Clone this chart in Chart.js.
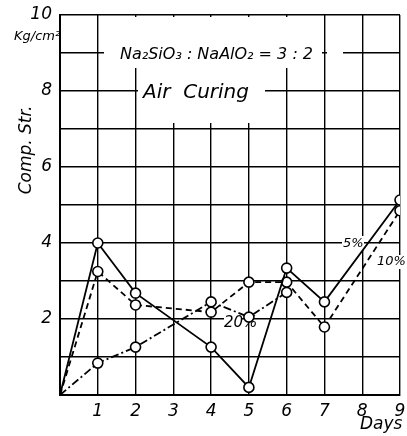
<!DOCTYPE html>
<html>
<head>
<meta charset="utf-8">
<script src="https://cdn.jsdelivr.net/npm/chart.js@4"></script>
<style>
  html, body { margin: 0; padding: 0; background: #fff; }
</style>
</head>
<body>
<canvas id="canvas" width="407" height="436"></canvas>
<script>
// compressive strength (kg/cm2) vs curing days, Na2SiO3 : NaAlO2 = 3 : 2, air curing
const days = [0, 1, 2, 4, 5, 6, 7, 9];
const str5 = [0, 4.0, 2.68, 1.26, 0.2, 3.34, 2.45, 5.13];
const str10 = [0, 3.25, 2.37, 2.18, 2.97, 2.97, 1.79, 4.85];
const days20 = [0, 1, 2, 4, 5, 6];
const str20 = [0, 0.84, 1.26, 2.45, 2.05, 2.7];
const yTicks = [2, 4, 6, 8, 10];

const pts = (xs, ys) => xs.map((x, i) => ({ x: x, y: ys[i] }));
const radii = xs => xs.map(x => x === 0 ? 0 : 5);

function series(label, xs, ys, dash) {
    return {
        label: label,
        data: pts(xs, ys),
        borderColor: '#000',
        borderWidth: 1.8,
        borderDash: dash,
        pointRadius: radii(xs),
        pointBackgroundColor: '#fff',
        pointBorderColor: '#000',
        pointBorderWidth: 1.6,
        tension: 0
    };
}

// white boxes + lettering that break the grid, like the original sheet
const notes = {
    id: 'notes',
    beforeDraw(chart) {
        const c = chart.ctx;
        c.save();
        c.fillStyle = '#fff';
        c.fillRect(0, 0, chart.width, chart.height);
        c.restore();
    },
    beforeDatasetsDraw(chart) {
        const c = chart.ctx;
        c.save();
        c.fillStyle = '#fff';
        c.fillRect(104, 17, 218, 51);
        c.fillRect(327, 48, 16, 10);
        c.fillRect(138, 68, 127, 55);
        c.fillRect(342, 236, 22, 14);
        c.fillRect(376, 255, 27, 14);
        c.fillRect(224, 314, 18, 16);
        c.fillStyle = '#000';
        c.textBaseline = 'middle';
        c.textAlign = 'left';
        c.font = 'italic 16px "DejaVu Sans", sans-serif';
        c.fillText('Na\u2082SiO\u2083 : NaAlO\u2082 = 3 : 2', 120, 55);
        c.font = 'italic 20px "DejaVu Sans", sans-serif';
        c.fillText('Air  Curing', 143, 93);
        c.font = 'italic 13px "DejaVu Sans", sans-serif';
        c.fillText('5%', 343, 244);
        c.fillText('10%', 377, 262);
        c.font = 'italic 15px "DejaVu Sans", sans-serif';
        c.fillText('20%', 224, 323);
        c.restore();
    },
    afterDraw(chart) {
        const c = chart.ctx;
        c.save();
        c.fillStyle = '#000';
        c.textBaseline = 'middle';
        c.font = 'italic 13px "DejaVu Sans", sans-serif';
        c.textAlign = 'left';
        c.fillText('Kg/cm\u00b2', 14, 37);
        c.font = 'italic 17px "DejaVu Sans", sans-serif';
        c.fillText('Days', 360, 425);
        c.translate(27, 150);
        c.rotate(-Math.PI / 2);
        c.textAlign = 'center';
        c.fillText('Comp. Str.', 0, 0);
        c.restore();
    }
};

const ctx = document.getElementById('canvas').getContext('2d');
const myChart = new Chart(ctx, {
    type: 'line',
    data: {
        datasets: [
            series('5%', days, str5, []),
            series('10%', days, str10, [6, 4]),
            series('20%', days20, str20, [8, 3, 2, 3])
        ]
    },
    options: {
        responsive: false,
        animation: false,
        layout: { padding: { top: 15, right: 7, left: 0, bottom: 0 } },
        plugins: {
            legend: { display: false },
            tooltip: { enabled: false }
        },
        scales: {
            x: {
                type: 'linear',
                min: 0,
                max: 9,
                afterFit: s => { s.height = 41; s.paddingLeft = 0; s.paddingRight = 0; },
                ticks: {
                    stepSize: 1,
                    color: '#000',
                    font: { family: '"DejaVu Sans", sans-serif', size: 17, style: 'italic' },
                    padding: 6,
                    callback: v => v === 0 ? '' : v
                },
                grid: { color: '#000', lineWidth: 1.4, drawTicks: false },
                border: { color: '#000', width: 2 }
            },
            y: {
                min: 0,
                max: 10,
                afterFit: s => { s.width = 60; s.paddingTop = 0; s.paddingBottom = 0; },
                ticks: {
                    stepSize: 1,
                    color: '#000',
                    font: { family: '"DejaVu Sans", sans-serif', size: 17, style: 'italic' },
                    padding: 8,
                    callback: v => yTicks.includes(v) ? v : ''
                },
                grid: { color: '#000', lineWidth: 1.4, drawTicks: false },
                border: { color: '#000', width: 2 }
            }
        }
    },
    plugins: [notes]
});
</script>
</body>
</html>
